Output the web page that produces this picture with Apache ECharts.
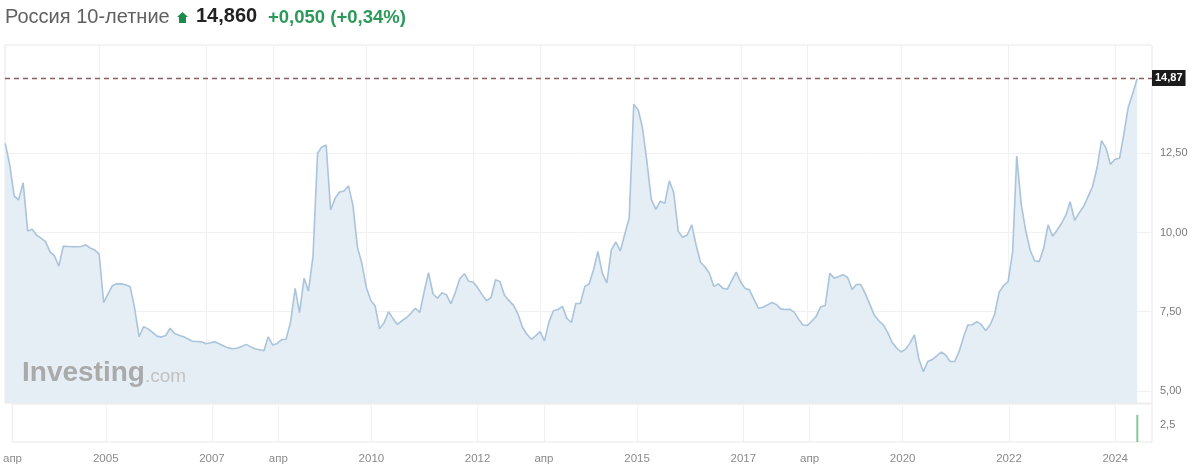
<!DOCTYPE html>
<html><head><meta charset="utf-8">
<script src="https://cdn.jsdelivr.net/npm/echarts@6/dist/echarts.min.js"></script>
<style>html,body{margin:0;padding:0;background:#fff}#c{width:1200px;height:474px}</style>
</head><body><div id="c"></div>
<script>
// ---- data ----
const instrumentName = 'Россия 10-летние';
const lastPrice = '14,860';
const changeAbs = '+0,050';
const changePct = '(+0,34%)';
const startYear = 2003, startMonth = 4; // first monthly observation
const yields = [
12.81,12.14,11.15,11.03,11.57,10.05,10.10,9.92,9.82,9.71,
9.39,9.27,8.94,9.57,9.56,9.55,9.55,9.56,9.61,9.51,
9.45,9.32,7.79,8.05,8.32,8.38,8.38,8.35,8.29,7.60,
6.71,7.03,6.96,6.85,6.73,6.70,6.75,6.98,6.81,6.76,
6.71,6.64,6.57,6.56,6.55,6.49,6.52,6.55,6.49,6.42,
6.36,6.33,6.35,6.40,6.47,6.40,6.33,6.30,6.27,6.71,
6.45,6.50,6.62,6.63,7.18,8.24,7.47,8.56,8.15,9.25,
12.50,12.69,12.76,10.71,11.08,11.28,11.31,11.47,10.85,9.52,
9.02,8.25,7.85,7.69,6.96,7.15,7.50,7.29,7.10,7.22,
7.31,7.45,7.61,7.48,8.17,8.73,8.06,7.93,8.10,8.04,
7.75,8.12,8.55,8.70,8.46,8.43,8.25,8.04,7.85,7.95,
8.51,8.45,8.02,7.85,7.71,7.43,7.02,6.79,6.63,6.74,
6.87,6.58,7.18,7.53,7.57,7.67,7.29,7.16,7.76,7.76,
8.30,8.37,8.82,9.40,8.70,8.41,9.45,9.70,9.42,9.95,
10.46,14.05,13.86,13.32,12.23,11.04,10.73,10.99,10.92,11.63,
11.26,10.03,9.85,9.92,10.24,9.62,9.06,8.92,8.71,8.30,
8.38,8.24,8.21,8.49,8.75,8.43,8.23,8.19,7.90,7.61,
7.64,7.71,7.79,7.73,7.59,7.57,7.58,7.49,7.26,7.08,
7.07,7.20,7.36,7.66,7.70,8.71,8.56,8.61,8.67,8.58,
8.20,8.36,8.36,8.08,7.74,7.40,7.22,7.09,6.85,6.53,
6.36,6.23,6.32,6.51,6.77,6.02,5.61,5.93,5.99,6.11,
6.23,6.13,5.93,5.93,6.25,6.68,7.08,7.09,7.19,7.10,
6.91,7.09,7.42,8.12,8.32,8.45,9.39,12.41,10.88,10.07,
9.44,9.11,9.08,9.50,10.24,9.88,10.07,10.29,10.56,10.97,
10.38,10.62,10.82,11.13,11.45,12.05,12.90,12.66,12.15,12.31,
12.34,13.08,13.96,14.38,14.86
];
const lastMarker = 14.87;
const volumeDates = ['2024-06-01'];
const volumes = [4.0];
const xTickDates = ['2003-04-01','2005-01-01','2007-01-01','2008-04-01','2010-01-01','2012-01-01','2013-04-01','2015-01-01','2017-01-01','2018-04-01','2020-01-01','2022-01-01','2024-01-01'];
const xTickLabels = ['апр','2005','2007','апр','2010','2012','апр','2015','2017','апр','2020','2022','2024'];
const yTicks = [5, 7.5, 10, 12.5];
const volTicks = [2.5];

// ---- build ----
function ts(s){ const p = s.split('-').map(Number); return Date.UTC(p[0], p[1]-1, p[2]||1); }
const seriesData = yields.map((v, i) => {
  const m = startMonth - 1 + i;
  return [Date.UTC(startYear + Math.floor(m/12), m % 12, 1), v];
});
const tickTs = xTickDates.map(ts);
const volData = volumeDates.map((d, i) => [ts(d), volumes[i]]);
const xMin = ts('2003-03-30'), xMax = ts('2024-09-10');
function xLabel(v){
  let best = 0, bd = Infinity;
  tickTs.forEach((t, i) => { const d = Math.abs(t - v); if (d < bd) { bd = d; best = i; } });
  return xTickLabels[best];
}
const comma = (v, d) => v.toFixed(d).replace('.', ',');
const FONT = 'Liberation Sans, Arial, sans-serif';

const chart = echarts.init(document.getElementById('c'), null, {renderer: 'canvas'});
chart.setOption({
  animation: false,
  backgroundColor: '#fff',
  textStyle: {fontFamily: FONT},
  grid: [
    {left: 5, right: 48, top: 45, height: 358, show: true, borderColor: '#e8e8e8', borderWidth: 1},
    {left: 5, right: 48, top: 404, height: 38, show: true, borderColor: '#e8e8e8', borderWidth: 1}
  ],
  xAxis: [
    {type: 'value', gridIndex: 0, min: xMin, max: xMax, scale: true,
     axisLine: {show: false}, axisTick: {show: false, customValues: tickTs},
     axisLabel: {show: false, customValues: tickTs},
     splitLine: {show: true, lineStyle: {color: '#f1f1f1', width: 1}}},
    {type: 'value', gridIndex: 1, min: xMin, max: xMax, scale: true,
     axisLine: {show: false}, axisTick: {show: false, customValues: tickTs},
     axisLabel: {show: true, customValues: tickTs, formatter: (v) => xLabel(v), color: '#8a8a8a', fontSize: 11.5, margin: 11, hideOverlap: false},
     splitLine: {show: true, lineStyle: {color: '#f1f1f1', width: 1}}}
  ],
  yAxis: [
    {type: 'value', gridIndex: 0, position: 'right', min: 4.621, max: 15.915,
     axisLine: {show: false}, axisTick: {show: false, customValues: yTicks},
     axisLabel: {customValues: yTicks, formatter: (v) => comma(v, 2), color: '#7a7a7a', fontSize: 11, margin: 8},
     splitLine: {show: true, lineStyle: {color: '#f1f1f1', width: 1}}},
    {type: 'value', gridIndex: 1, position: 'right', min: 0, max: 5.6,
     axisLine: {show: false}, axisTick: {show: false, customValues: volTicks},
     axisLabel: {customValues: volTicks, formatter: (v) => comma(v, 1), color: '#7a7a7a', fontSize: 11, margin: 8},
     splitLine: {show: false}}
  ],
  series: [
    {type: 'line', xAxisIndex: 0, yAxisIndex: 0, data: seriesData, showSymbol: false, symbol: 'none',
     lineStyle: {color: '#a9c4db', width: 1.6},
     areaStyle: {color: '#e5edf5', opacity: 1, origin: 'start'},
     markLine: {symbol: 'none', silent: true,
       lineStyle: {color: '#8e5d5d', type: [5, 4], width: 1.4},
       label: {position: 'end', distance: 0, formatter: () => comma(lastMarker, 2), color: '#fff', backgroundColor: '#1b1b1b',
               fontSize: 11, fontWeight: 'bold', padding: [3, 3, 2, 3], fontFamily: FONT},
       data: [{yAxis: lastMarker}]}},
    {type: 'bar', xAxisIndex: 1, yAxisIndex: 1, data: volData, barWidth: 2, itemStyle: {color: '#86c99f'}}
  ],
  graphic: [
    {type: 'text', left: 5, top: 7, style: {text: instrumentName, font: '20px ' + FONT, fill: '#606060'}},
    {type: 'polygon', shape: {points: [[182.5,12],[188,17],[186,17],[186,23],[179,23],[179,17],[177,17]]}, style: {fill: '#1b8a4c'}},
    {type: 'text', left: 196, top: 6, style: {text: lastPrice, font: 'bold 20px ' + FONT, fill: '#222'}},
    {type: 'text', left: 268, top: 8, style: {text: changeAbs + ' ' + changePct, font: 'bold 18.5px ' + FONT, fill: '#2b9a58'}},
    {type: 'text', left: 22, top: 359, z: 100, style: {
      text: '{a|Investing}{b|.com}',
      rich: {a: {font: 'bold 28px ' + FONT, fill: '#aaaaaa'}, b: {font: '19px ' + FONT, fill: '#c2c2c2', padding: [7, 0, 0, 0]}}}}
  ]
});
</script></body></html>
